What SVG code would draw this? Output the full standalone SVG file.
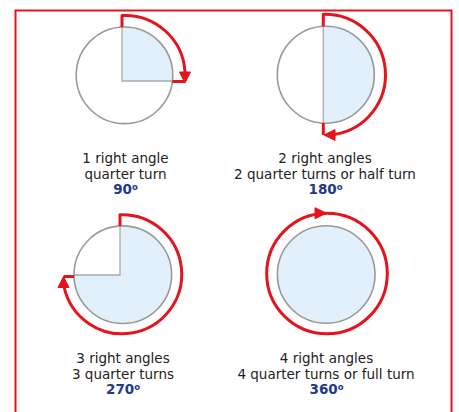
<svg xmlns="http://www.w3.org/2000/svg" width="459" height="412" viewBox="0 0 459 412">
<style>
.bg{fill:#ffffff}
.face{fill:#ffffff;stroke:none}
.sector{fill:#e1f0fa;stroke:none}
.edge{fill:none;stroke:#aaaaaa;stroke-width:1.3}
.rim{fill:none;stroke:#999999;stroke-width:1.6}
.turn{fill:none;stroke:#e5141c;stroke-width:3;stroke-linejoin:round}
.head{fill:#e5141c;stroke:#e5141c;stroke-width:1;stroke-linejoin:round}
.lbl{font-family:"DejaVu Sans",Verdana,sans-serif;font-size:13.5px;fill:#222222;text-anchor:middle}
.deg{font-family:"DejaVu Sans",Verdana,sans-serif;font-size:13.5px;font-weight:bold;fill:#213a8c;text-anchor:middle}
.sup{font-size:8.5px}
</style>
<rect class="bg" x="0" y="0" width="459" height="412"/>
<rect id="frame" x="15.5" y="10.5" width="436" height="412" fill="none" stroke="#e5141c" stroke-width="2"/>

<g id="node-90">
  <circle class="face" cx="124.5" cy="75.3" r="48.3"/>
  <path class="sector" d="M122,81 V27.1 A48.3,48.3 0 0 1 172.4,81 Z"/>
  <path class="edge" d="M122,27.1 V81 H172.4"/>
  <circle class="rim" cx="124.5" cy="75.3" r="48.3"/>
  <path class="turn" d="M122,27 V15.5 A60,60 0 0 1 185,72"/>
  <path class="turn" d="M172.4,81.5 H185"/>
  <polygon class="head" points="179.5,72 190.5,72 185,83"/>
  <text class="lbl" x="125.5" y="163">1 right angle</text>
  <text class="lbl" x="125.5" y="179">quarter turn</text>
  <text class="deg" x="125.5" y="194">90<tspan class="sup" dy="-4.5">o</tspan></text>
</g>

<g id="node-180">
  <circle class="face" cx="325.8" cy="74.7" r="48.5"/>
  <path class="sector" d="M323.3,26.3 A48.5,48.5 0 1 1 323.3,123.1 Z"/>
  <path class="edge" d="M323.3,26.3 V123.1"/>
  <circle class="rim" cx="325.8" cy="74.7" r="48.5"/>
  <path class="turn" d="M323.3,26.3 V14.3 A60.5,60.5 0 0 1 334,134.6"/>
  <path class="turn" d="M323.3,123.1 V135"/>
  <polygon class="head" points="324,135 335,129.5 335,140.5"/>
  <text class="lbl" x="325" y="163">2 right angles</text>
  <text class="lbl" x="325" y="179">2 quarter turns or half turn</text>
  <text class="deg" x="325.5" y="194">180<tspan class="sup" dy="-4.5">o</tspan></text>
</g>

<g id="node-270">
  <circle class="face" cx="122.8" cy="274.7" r="48.8"/>
  <path class="sector" d="M120,275 V226 A48.8,48.8 0 1 1 74,275 Z"/>
  <path class="edge" d="M120,226 V275 H74"/>
  <circle class="rim" cx="122.8" cy="274.7" r="48.8"/>
  <path class="turn" d="M120,226 V214.8 A59.5,59.5 0 1 1 64.1,287"/>
  <path class="turn" d="M74,276.5 H63.5"/>
  <polygon class="head" points="63.5,276.5 58,287.5 69,287.5"/>
  <text class="lbl" x="123" y="363">3 right angles</text>
  <text class="lbl" x="123" y="379">3 quarter turns</text>
  <text class="deg" x="123" y="394">270<tspan class="sup" dy="-4.5">o</tspan></text>
</g>

<g id="node-360">
  <circle class="sector" cx="326.2" cy="274.5" r="48.8"/>
  <circle class="rim" cx="326.2" cy="274.5" r="48.8"/>
  <circle class="turn" cx="327" cy="273.5" r="60.3"/>
  <polygon class="head" points="326.5,213.2 315,207.7 315,218.7"/>
  <text class="lbl" x="326.5" y="363">4 right angles</text>
  <text class="lbl" x="326" y="379">4 quarter turns or full turn</text>
  <text class="deg" x="326.5" y="394">360<tspan class="sup" dy="-4.5">o</tspan></text>
</g>

<g id="connectors"></g>
</svg>
